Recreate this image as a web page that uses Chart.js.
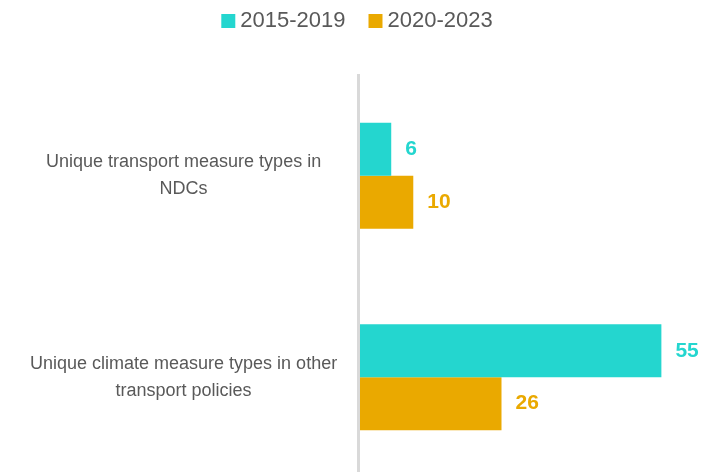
<!DOCTYPE html>
<html>
<head>
<meta charset="utf-8">
<script src="https://cdn.jsdelivr.net/npm/chart.js@4.4.1/dist/chart.umd.min.js"></script>
<style>
  html, body { margin: 0; padding: 0; background: #fff; overflow: hidden; }
  canvas { display: block; }
</style>
</head>
<body>
<canvas id="measureChart" width="715" height="480"></canvas>
<script>
const categories = [
  ["Unique transport measure types in", "NDCs"],
  ["Unique climate measure types in other", "transport policies"]
];
const seriesNames = ["2015-2019", "2020-2023"];
const values2015to2019 = [6, 55];
const values2020to2023 = [10, 26];

const TEAL = "#24d6cf";
const GOLD = "#eaa900";
const GREY_TEXT = "#595959";

// push the plot down below the legend
const legendSpacer = {
  id: "legendSpacer",
  afterInit(chart) {
    const origFit = chart.legend.fit;
    chart.legend.fit = function () {
      origFit.bind(chart.legend)();
      this.height += 33;
    };
  }
};

// numbers written just past the end of each bar
const barValues = {
  id: "barValues",
  afterDatasetsDraw(chart) {
    const ctx = chart.ctx;
    ctx.save();
    ctx.font = "bold 21px 'Liberation Sans', Arial, sans-serif";
    ctx.textAlign = "left";
    ctx.textBaseline = "middle";
    chart.data.datasets.forEach((ds, i) => {
      const meta = chart.getDatasetMeta(i);
      meta.data.forEach((bar, j) => {
        ctx.fillStyle = ds.backgroundColor;
        ctx.fillText(ds.data[j], bar.x + 14, bar.y);
      });
    });
    ctx.restore();
  }
};

const data = {
  labels: categories,
  datasets: [
    {
      label: seriesNames[0],
      data: values2015to2019,
      backgroundColor: TEAL,
      borderWidth: 0,
    },
    {
      label: seriesNames[1],
      data: values2020to2023,
      backgroundColor: GOLD,
      borderWidth: 0,
    },
  ],
};

const config = {
  type: "bar",
  data: data,
  options: {
    indexAxis: "y",
    responsive: false,
    animation: false,
    layout: {
      // negative top offsets the legend's own (wide) label padding
      padding: { top: -19, right: 4, bottom: 2, left: 9 },
    },
    datasets: {
      bar: {
        barPercentage: 1,
        categoryPercentage: 0.525,
      },
    },
    plugins: {
      legend: {
        position: "top",
        labels: {
          // square markers with a tight gap before the text
          usePointStyle: true,
          pointStyle: "rect",
          boxWidth: 2,
          boxHeight: 14,
          padding: 29,
          color: GREY_TEXT,
          font: { family: "'Liberation Sans', Arial, sans-serif", size: 22 },
        },
      },
      tooltip: { enabled: false },
    },
    scales: {
      x: {
        display: false,
        min: 0,
        max: 64,
      },
      y: {
        grid: { display: false, drawTicks: false },
        border: { display: true, color: "#d9d9d9", width: 3, z: 1 },
        ticks: {
          crossAlign: "center",
          padding: 21,
          color: GREY_TEXT,
          font: { family: "'Liberation Sans', Arial, sans-serif", size: 18, lineHeight: 1.5 },
        },
        // labels sit inside their bands, so no extra room above/below the axis
        afterFit(scale) {
          scale.paddingTop = 0;
          scale.paddingBottom = 0;
        },
      },
    },
  },
  plugins: [legendSpacer, barValues],
};

const chart = new Chart(document.getElementById("measureChart"), config);
</script>
</body>
</html>
